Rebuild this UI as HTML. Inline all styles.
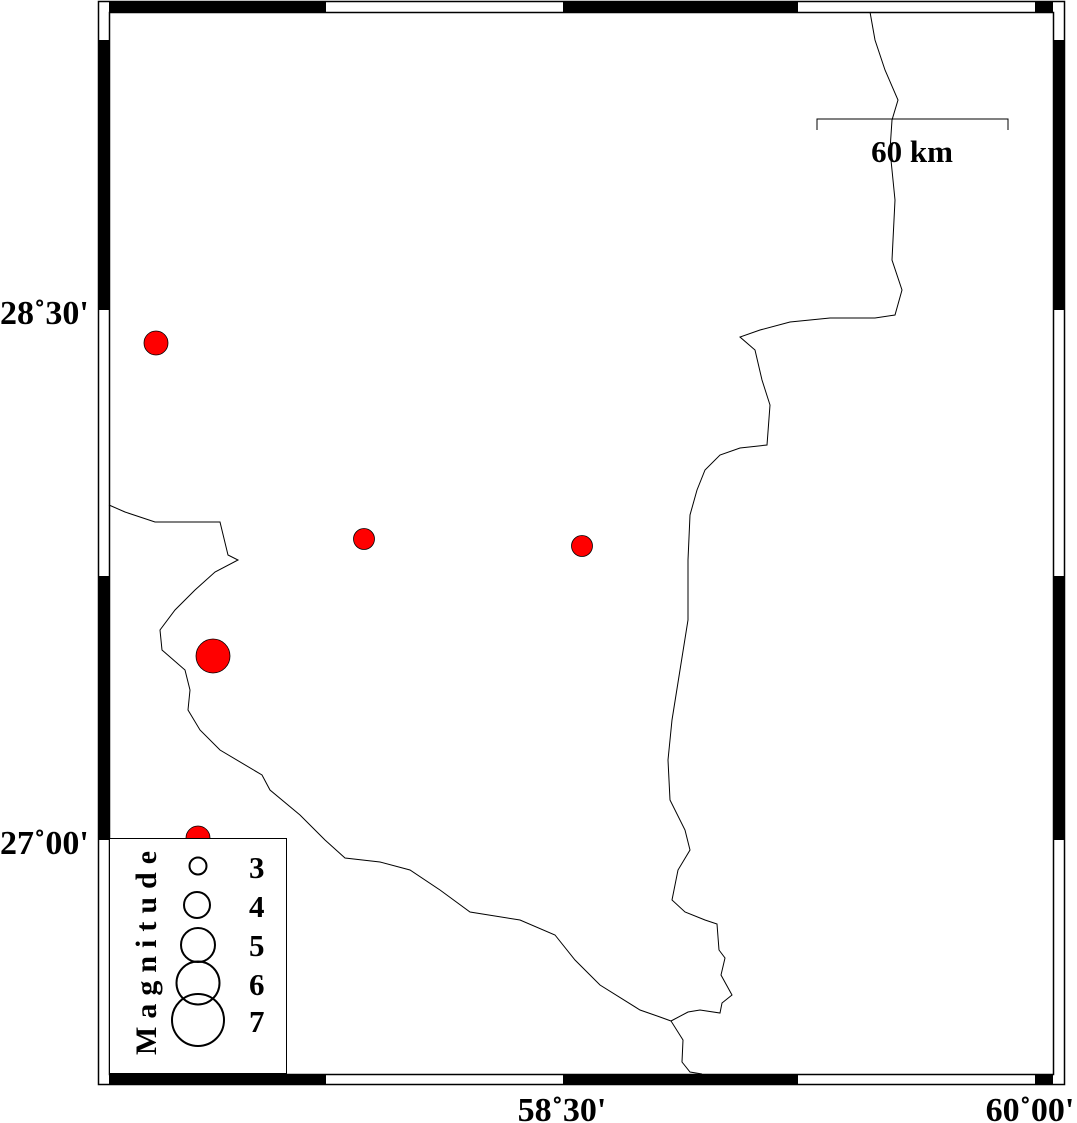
<!DOCTYPE html>
<html><head><style>body{margin:0;background:#fff}svg{display:block}text{font-family:"Liberation Serif",serif;font-weight:bold}</style></head><body>
<svg width="1077" height="1123" viewBox="0 0 1077 1123" xmlns="http://www.w3.org/2000/svg">
<g stroke="#000" stroke-width="1.5">
<rect x="98.5" y="1.5" width="966" height="1083" fill="#fff"/>
<rect x="109.5" y="12.5" width="944" height="1062" fill="none"/>
</g>
<g fill="none" stroke="#000" stroke-width="1">
<path d="M870,12 L875,40 L885,70 L898,100 L892,120 L890,150 L895,200 L892,260 L902,290 L895,315 L875,318 L830,318 L790,322 L760,330 L740,337 L755,350 L762,380 L770,405 L767,445 L740,448 L720,455 L705,470 L697,490 L690,515 L688,560 L688,620 L680,670 L672,720 L668,760 L670,800 L685,830 L690,850 L678,870 L672,900 L685,912 L705,920 L717,924 L719,950 L725,958 L721,975 L732,995 L722,1003 L720,1013 L700,1010 L688,1012 L671,1021 L683,1040 L682,1062 L690,1072 L702,1074"/>
<path d="M109,505 L125,512 L155,522 L220,522 L228,555 L238,560 L215,572 L195,590 L175,610 L160,630 L162,650 L185,670 L190,690 L188,710 L200,730 L220,750 L262,775 L270,790 L300,815 L325,840 L345,858 L380,862 L410,870 L440,890 L470,912 L520,920 L555,935 L575,960 L600,985 L640,1010 L660,1017 L671,1021"/>
</g>
<g fill="#f00" stroke="#000" stroke-width="0.8">
<circle cx="156" cy="343" r="12"/><circle cx="364" cy="539" r="10.5"/><circle cx="582" cy="546" r="10.5"/><circle cx="213" cy="656" r="17"/><circle cx="198" cy="838" r="12"/>
</g>
<g fill="#000">
<rect x="109" y="1" width="217" height="11"/><rect x="563" y="1" width="235" height="11"/><rect x="1035" y="1" width="18" height="11"/>
<rect x="109" y="1074" width="217" height="11"/><rect x="563" y="1074" width="235" height="11"/><rect x="1035" y="1074" width="18" height="11"/>
<rect x="98" y="40" width="11" height="270"/><rect x="98" y="576" width="11" height="264"/>
<rect x="1053" y="40" width="11" height="270"/><rect x="1053" y="576" width="11" height="264"/>
</g>
<rect x="109.5" y="838.5" width="177" height="235" fill="#fff" stroke="#000" stroke-width="1"/>
<g fill="none" stroke="#000" stroke-width="2">
<circle cx="198" cy="866" r="8.5"/><circle cx="197" cy="905" r="13"/><circle cx="198" cy="945" r="17"/><circle cx="198" cy="983" r="21.5"/><circle cx="198" cy="1020" r="26"/>
</g>
<g style="font-size:31px">
<text x="249" y="878">3</text><text x="249" y="917">4</text><text x="249" y="956">5</text><text x="249" y="995">6</text><text x="249" y="1032">7</text>
</g>
<text transform="translate(156,1055) rotate(-90)" style="font-size:30px;letter-spacing:8px">Magnitude</text>
<path d="M817,130 L817,119 L1008,119 L1008,130" fill="none" stroke="#000" stroke-width="1"/>
<text x="912" y="162" text-anchor="middle" style="font-size:31px">60 km</text>
<g style="font-size:34px">
<text x="0" y="324">28˚30'</text>
<text x="0" y="854">27˚00'</text>
<text x="562" y="1121" text-anchor="middle">58˚30'</text>
<text x="1030" y="1121" text-anchor="middle">60˚00'</text>
</g>
</svg>
</body></html>
